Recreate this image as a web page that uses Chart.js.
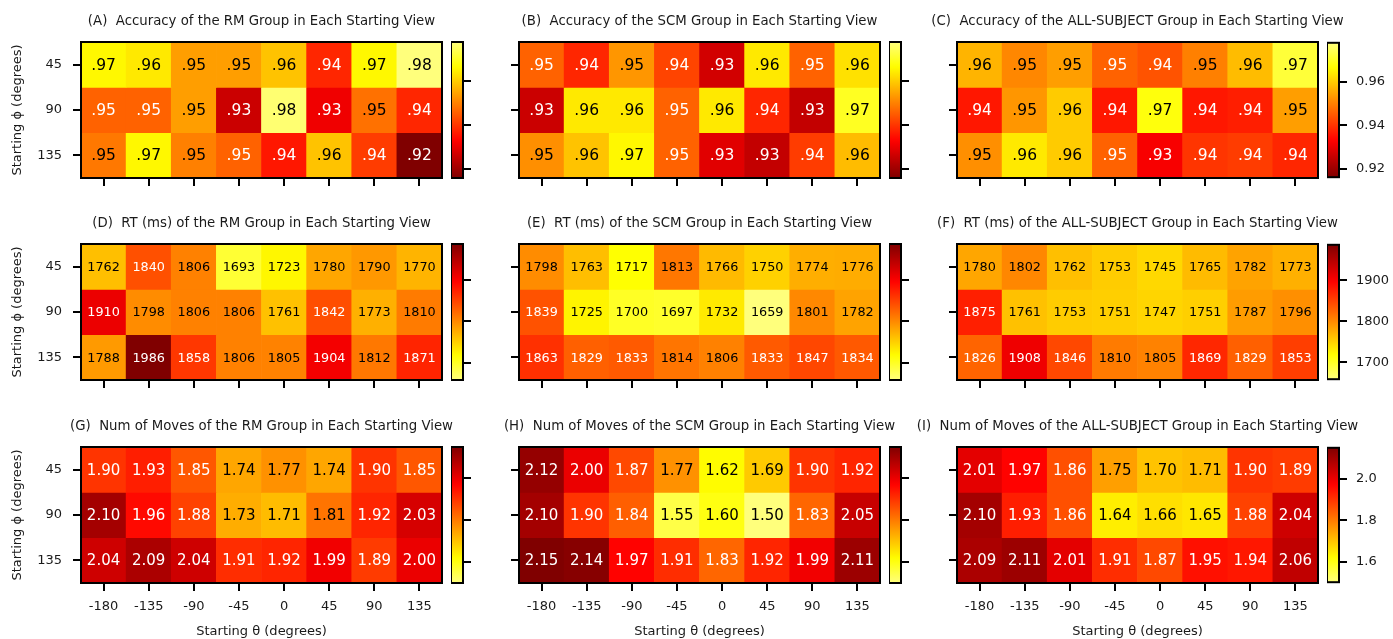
<!DOCTYPE html>
<html>
<head>
<meta charset="utf-8">
<script src="https://cdn.jsdelivr.net/npm/chart.js@4.4.1/dist/chart.umd.min.js"></script>
<style>
  html, body { margin: 0; padding: 0; background: #fff; }
  #fig { position: relative; width: 1393px; height: 639px; overflow: hidden; }
  #fig canvas { position: absolute; }
</style>
</head>
<body>
<div id="fig"></div>
<script>
// ===============================
// Data
// ===============================
const thetaLabels = ['-180', '-135', '-90', '-45', '0', '45', '90', '135'];
const phiLabels = ['45', '90', '135'];

// Accuracy (rows: phi 45 / 90 / 135)
const accRM = [
  [0.966, 0.964, 0.954, 0.954, 0.959, 0.938, 0.966, 0.978],
  [0.946, 0.946, 0.954, 0.926, 0.977, 0.931, 0.948, 0.938],
  [0.949, 0.966, 0.950, 0.946, 0.936, 0.959, 0.941, 0.916]
];
const accSCM = [
  [0.946, 0.938, 0.953, 0.942, 0.927, 0.964, 0.946, 0.963],
  [0.926, 0.964, 0.964, 0.946, 0.964, 0.938, 0.925, 0.970],
  [0.952, 0.959, 0.966, 0.946, 0.929, 0.925, 0.941, 0.958]
];
const accAll = [
  [0.957, 0.951, 0.954, 0.946, 0.944, 0.950, 0.958, 0.972],
  [0.936, 0.953, 0.960, 0.936, 0.968, 0.936, 0.937, 0.954],
  [0.952, 0.964, 0.960, 0.946, 0.932, 0.940, 0.941, 0.938]
];

// Response time (ms)
const rtRM = [
  [1762, 1840, 1806, 1693, 1723, 1780, 1790, 1770],
  [1910, 1798, 1806, 1806, 1761, 1842, 1773, 1810],
  [1788, 1986, 1858, 1806, 1805, 1904, 1812, 1871]
];
const rtSCM = [
  [1798, 1763, 1717, 1813, 1766, 1750, 1774, 1776],
  [1839, 1725, 1700, 1697, 1732, 1659, 1801, 1782],
  [1863, 1829, 1833, 1814, 1806, 1833, 1847, 1834]
];
const rtAll = [
  [1780, 1802, 1762, 1753, 1745, 1765, 1782, 1773],
  [1875, 1761, 1753, 1751, 1747, 1751, 1787, 1796],
  [1826, 1908, 1846, 1810, 1805, 1869, 1829, 1853]
];

// Number of moves
const movesRM = [
  [1.90, 1.93, 1.85, 1.74, 1.77, 1.74, 1.90, 1.85],
  [2.10, 1.96, 1.88, 1.73, 1.71, 1.81, 1.92, 2.03],
  [2.04, 2.09, 2.04, 1.91, 1.92, 1.99, 1.89, 2.00]
];
const movesSCM = [
  [2.12, 2.00, 1.87, 1.77, 1.62, 1.69, 1.90, 1.92],
  [2.10, 1.90, 1.84, 1.55, 1.60, 1.50, 1.83, 2.05],
  [2.15, 2.14, 1.97, 1.91, 1.83, 1.92, 1.99, 2.11]
];
const movesAll = [
  [2.01, 1.97, 1.86, 1.75, 1.70, 1.71, 1.90, 1.89],
  [2.10, 1.93, 1.86, 1.64, 1.66, 1.65, 1.88, 2.04],
  [2.09, 2.11, 2.01, 1.91, 1.87, 1.95, 1.94, 2.06]
];

// Colorbar ticks
const accTicks = [0.92, 0.94, 0.96];
const rtTicks = [1700, 1800, 1900];
const movesTicks = [1.6, 1.8, 2.0];

const groupNames = ['RM', 'SCM', 'ALL-SUBJECT'];

// ===============================
// Layout / style
// ===============================
Chart.defaults.font.family = "'DejaVu Sans', sans-serif";
Chart.defaults.color = '#1a1a1a';

const axLeft = [81, 519, 957];
const axTop = [42, 244, 447];
const axW = 361;
const axH = 136;
const cbGap = 9;
const cbW = 12;
const cbPad = 16;
const tickFont = { size: 13 };

const rows = [
  {
    measure: 'Accuracy',
    values: [accRM, accSCM, accAll],
    ticks: accTicks,
    highIsDark: false,
    cellFont: '15.5px "DejaVu Sans"',
    cellFmt: v => v.toFixed(2).replace(/^0/, ''),
    tickFmt: v => v.toFixed(2)
  },
  {
    measure: 'RT (ms)',
    values: [rtRM, rtSCM, rtAll],
    ticks: rtTicks,
    highIsDark: true,
    cellFont: '12.8px "DejaVu Sans"',
    cellFmt: v => String(v),
    tickFmt: v => String(v)
  },
  {
    measure: 'Num of Moves',
    values: [movesRM, movesSCM, movesAll],
    ticks: movesTicks,
    highIsDark: true,
    cellFont: '15px "DejaVu Sans"',
    cellFmt: v => v.toFixed(2),
    tickFmt: v => v.toFixed(1)
  }
];

// matplotlib "hot", only the dark-red .. pale-yellow part of it
const H0 = 0.175, H1 = 0.87;
function clamp01(x) { return Math.max(0, Math.min(1, x)); }
function hot(h) {
  const r = clamp01(0.0416 + 0.9584 * h / 0.365079);
  const g = clamp01((h - 0.365079) / (0.746032 - 0.365079));
  const b = clamp01((h - 0.746032) / (1 - 0.746032));
  return `rgb(${Math.round(r * 255)}, ${Math.round(g * 255)}, ${Math.round(b * 255)})`;
}
// position along the map: 0 = dark end, 1 = light end
function lightness(v, lo, hi, highIsDark) {
  const t = (v - lo) / (hi - lo);
  return highIsDark ? 1 - t : t;
}

// ===============================
// Plugins
// ===============================
const cellText = {
  id: 'cellText',
  afterDatasetsDraw(chart, args, opts) {
    const ctx = chart.ctx;
    ctx.save();
    ctx.font = opts.font;
    ctx.textAlign = 'center';
    ctx.textBaseline = 'middle';
    chart.data.datasets.forEach((ds, r) => {
      chart.getDatasetMeta(r).data.forEach((bar, c) => {
        const p = bar.getCenterPoint();
        ctx.fillStyle = opts.colors[r][c];
        ctx.fillText(opts.labels[r][c], p.x, p.y + 1);
      });
    });
    ctx.restore();
  }
};

const frame = {
  id: 'frame',
  afterDraw(chart) {
    const { left, top, width, height } = chart.chartArea;
    const ctx = chart.ctx;
    ctx.save();
    ctx.lineWidth = 2;
    ctx.strokeStyle = '#000';
    ctx.strokeRect(left, top, width, height);
    ctx.restore();
  }
};

const panelTitle = {
  id: 'panelTitle',
  afterDraw(chart, args, opts) {
    const { left, right, top } = chart.chartArea;
    const ctx = chart.ctx;
    ctx.save();
    ctx.font = '13.3px "DejaVu Sans"';
    ctx.fillStyle = '#1a1a1a';
    ctx.textAlign = 'center';
    ctx.textBaseline = 'middle';
    ctx.fillText(opts.text, (left + right) / 2, top - 20);
    ctx.restore();
  }
};

// ===============================
// Build panels
// ===============================
const fig = document.getElementById('fig');

function addCanvas(left, top, width, height) {
  const c = document.createElement('canvas');
  c.width = width;
  c.height = height;
  c.style.left = left + 'px';
  c.style.top = top + 'px';
  c.style.width = width + 'px';
  c.style.height = height + 'px';
  fig.appendChild(c);
  return c;
}

rows.forEach((row, ri) => {
  const all = row.values.flat(2);
  const lo = Math.min(...all);
  const hi = Math.max(...all);
  const colorOf = v => hot(H0 + lightness(v, lo, hi, row.highIsDark) * (H1 - H0));

  row.values.forEach((values, ci) => {
    const letter = String.fromCharCode(65 + ri * 3 + ci);
    const title = `(${letter})  ${row.measure} of the ${groupNames[ci]} Group in Each Starting View`;
    const lastRow = ri === rows.length - 1;

    // heatmap
    const ML = ci === 0 ? axLeft[0] : 60;
    const MR = 60;
    const MT = 40;
    const MB = lastRow ? 639 - (axTop[ri] + axH) : 20;
    const canvas = addCanvas(axLeft[ci] - ML, axTop[ri] - MT, axW + ML + MR, axH + MT + MB);

    new Chart(canvas, {
      type: 'bar',
      data: {
        labels: thetaLabels,
        datasets: phiLabels.map((phi, r) => ({
          label: phi,
          data: thetaLabels.map(() => [r - 0.5, r + 0.5]),
          backgroundColor: values[r].map(colorOf),
          borderWidth: 0,
          barPercentage: 1,
          categoryPercentage: 1,
          grouped: false
        }))
      },
      options: {
        responsive: false,
        animation: false,
        events: [],
        layout: { padding: { top: MT, right: MR, left: 0, bottom: 0 } },
        plugins: {
          legend: { display: false },
          tooltip: { enabled: false },
          cellText: {
            font: row.cellFont,
            labels: values.map(rv => rv.map(row.cellFmt)),
            colors: values.map(rv => rv.map(v => lightness(v, lo, hi, row.highIsDark) < 0.5 ? '#fff' : '#000'))
          },
          panelTitle: { text: title }
        },
        scales: {
          x: {
            type: 'category',
            offset: true,
            border: { display: false },
            grid: { offset: false, drawOnChartArea: false, tickLength: 8, lineWidth: 2, color: '#000' },
            ticks: { display: lastRow, font: tickFont, padding: 8, maxRotation: 0, autoSkip: false },
            title: {
              display: lastRow,
              text: 'Starting θ (degrees)',
              font: tickFont,
              padding: { top: 1, bottom: 0 }
            },
            afterFit: s => { s.height = MB; }
          },
          y: {
            type: 'linear',
            reverse: true,
            min: -0.5,
            max: 2.5,
            border: { display: false },
            afterBuildTicks: s => { s.ticks = phiLabels.map((p, i) => ({ value: i })); },
            grid: { drawOnChartArea: false, tickLength: 8, lineWidth: 2, color: '#000' },
            ticks: { display: ci === 0, font: tickFont, padding: 11, callback: v => phiLabels[v] },
            title: {
              display: ci === 0,
              text: 'Starting ϕ (degrees)',
              font: tickFont,
              padding: { top: 10, bottom: 0 }
            },
            afterFit: s => { s.width = ML; }
          }
        }
      },
      plugins: [cellText, frame, panelTitle]
    });

    // colorbar
    const cbLeft = axLeft[ci] + axW + cbGap;
    const cbCanvas = addCanvas(cbLeft, axTop[ri] - cbPad, cbW + 60, axH + 2 * cbPad);
    new Chart(cbCanvas, {
      type: 'bar',
      data: {
        labels: [''],
        datasets: [{
          data: [[lo, hi]],
          borderWidth: 0,
          barPercentage: 1,
          categoryPercentage: 1,
          backgroundColor: ctx => {
            const chart = ctx.chart;
            if (!chart.chartArea) return null;
            const y = chart.scales.y;
            const g = chart.ctx.createLinearGradient(0, y.getPixelForValue(lo), 0, y.getPixelForValue(hi));
            const n = 32;
            for (let i = 0; i <= n; i++) {
              g.addColorStop(i / n, colorOf(lo + (hi - lo) * i / n));
            }
            return g;
          }
        }]
      },
      options: {
        responsive: false,
        animation: false,
        events: [],
        layout: { padding: { top: cbPad, bottom: cbPad, left: 0, right: 0 } },
        plugins: { legend: { display: false }, tooltip: { enabled: false } },
        scales: {
          x: { display: false },
          y: {
            position: 'right',
            min: lo,
            max: hi,
            border: { display: false },
            afterBuildTicks: s => { s.ticks = row.ticks.map(v => ({ value: v })); },
            grid: { drawOnChartArea: false, tickLength: 8, lineWidth: 2, color: '#000' },
            ticks: { display: ci === 2, font: tickFont, padding: 9, callback: v => row.tickFmt(v) },
            afterFit: s => { s.width = 60; }
          }
        }
      },
      plugins: [frame]
    });
  });
});
</script>
</body>
</html>
